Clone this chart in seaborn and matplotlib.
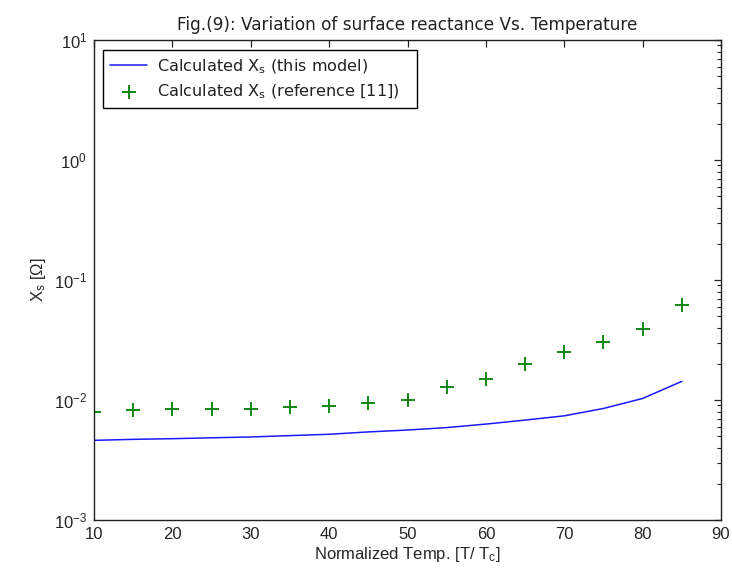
import matplotlib
matplotlib.use("Agg")
import matplotlib.pyplot as plt
import seaborn as sns
import numpy as np
import pandas as pd
from matplotlib.ticker import LogLocator, NullFormatter, FixedLocator

# Data
temp_model = [10, 15, 20, 25, 30, 35, 40, 45, 50, 55, 60, 65, 70, 75, 80, 85]
xs_model = [0.00461, 0.00470, 0.00476, 0.00484, 0.00492, 0.00505, 0.00518, 0.00542, 0.00562,
            0.00589, 0.00630, 0.00680, 0.00738, 0.00850, 0.01030, 0.01430]
temp_ref = [10, 15, 20, 25, 30, 35, 40, 45, 50, 55, 60, 65, 70, 75, 80, 85]
xs_ref = [0.00797, 0.0082, 0.00845, 0.00845, 0.00845, 0.0087, 0.0089, 0.0094, 0.0100,
          0.0129, 0.0149, 0.0201, 0.0249, 0.0303, 0.0393, 0.0617]
x_ticks = [10, 20, 30, 40, 50, 60, 70, 80, 90]

sns.set_style("white")
plt.rcParams['font.family'] = ['Liberation Sans', 'DejaVu Sans']
plt.rcParams['mathtext.default'] = 'regular'

df_model = pd.DataFrame({"T": temp_model, "X": xs_model})
df_ref = pd.DataFrame({"T": temp_ref, "X": xs_ref})

fig = plt.figure(figsize=(7.32, 5.80), dpi=100)
ax = fig.add_axes([94/732, 1-520/580, 627/732, 480/580])

sns.lineplot(data=df_model, x="T", y="X", ax=ax, color="#1a1aff", linewidth=1.1,
             label=r"Calculated X$_s$ (this model)")
sns.scatterplot(data=df_ref, x="T", y="X", ax=ax, marker="+", color="#008000", s=100,
                linewidth=1.3, label=r"Calculated X$_s$ (reference [11])")

ax.set_yscale("log")
ax.set_xlim(10, 90)
ax.set_ylim(1e-3, 1e1)
ax.xaxis.set_major_locator(FixedLocator(x_ticks))
ax.set_xticklabels([str(t) for t in x_ticks])
ax.yaxis.set_major_locator(LogLocator(base=10, numticks=10))
ax.yaxis.set_minor_locator(LogLocator(base=10, subs=np.arange(2, 10), numticks=20))
ax.yaxis.set_minor_formatter(NullFormatter())

ax.tick_params(which="both", direction="in", top=True, right=True, labelsize=12,
               color="#222222")
ax.tick_params(which="major", length=5, width=0.9, pad=5)
ax.tick_params(which="minor", length=3, width=0.8)
for sp in ax.spines.values():
    sp.set_visible(True)
    sp.set_color("#222222")
    sp.set_linewidth(1.0)

ax.set_xlabel(r"Normalized Temp. [T/ T$_c$]", fontsize=12, labelpad=2)
ax.set_ylabel(r"X$_s$ [$\Omega$]", fontsize=12, labelpad=4)
ax.set_title("Fig.(9): Variation of surface reactance Vs. Temperature", fontsize=12.2,
             pad=7, family=['DejaVu Sans'], color="#222222")

leg = ax.legend(loc="upper left", bbox_to_anchor=(0.0144, 0.0, 0.501, 0.979), mode="expand",
                fancybox=False, edgecolor="black", framealpha=1,
                prop={"family": ["DejaVu Sans"], "size": 11.6},
                borderaxespad=0.0, handlelength=2.3, borderpad=0.45,
                labelspacing=0.42, handletextpad=0.6)
leg.get_frame().set_linewidth(1.0)
for t in leg.get_texts():
    t.set_color("#222222")

fig.savefig("out.png", dpi=100, facecolor="white")
